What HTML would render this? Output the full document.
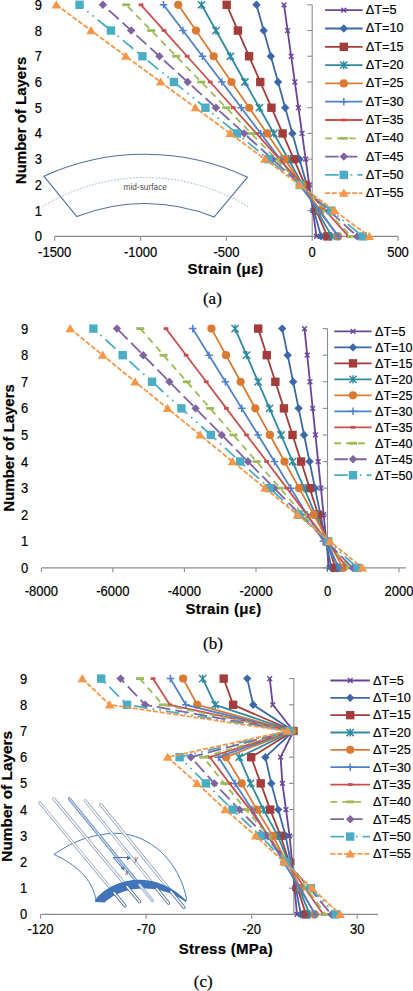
<!DOCTYPE html>
<html><head><meta charset="utf-8"><title>Figure</title>
<style>html,body{margin:0;padding:0;background:#fff;width:413px;height:991px;overflow:hidden}
svg{display:block} .t{stroke:#000;stroke-width:0.18px} .b{stroke:#000;stroke-width:0.2px}</style></head>
<body><svg width="413" height="991" viewBox="0 0 413 991" font-family='"Liberation Sans", sans-serif' fill="#000"><path d="M54.7 236.4H398" stroke="#8c8c8c" stroke-width="1.1" fill="none"/><path d="M54.7 236.4V240.7" stroke="#8c8c8c" stroke-width="1.1"/><path d="M140.5 236.4V240.7" stroke="#8c8c8c" stroke-width="1.1"/><path d="M226.4 236.4V240.7" stroke="#8c8c8c" stroke-width="1.1"/><path d="M312.2 236.4V240.7" stroke="#8c8c8c" stroke-width="1.1"/><path d="M398 236.4V240.7" stroke="#8c8c8c" stroke-width="1.1"/><path d="M312.2 4.8V236.4" stroke="#8c8c8c" stroke-width="1.1" fill="none"/><path d="M307.4 4.8H312.2" stroke="#8c8c8c" stroke-width="1.1"/><path d="M307.4 30.53H312.2" stroke="#8c8c8c" stroke-width="1.1"/><path d="M307.4 56.27H312.2" stroke="#8c8c8c" stroke-width="1.1"/><path d="M307.4 82H312.2" stroke="#8c8c8c" stroke-width="1.1"/><path d="M307.4 107.73H312.2" stroke="#8c8c8c" stroke-width="1.1"/><path d="M307.4 133.47H312.2" stroke="#8c8c8c" stroke-width="1.1"/><path d="M307.4 159.2H312.2" stroke="#8c8c8c" stroke-width="1.1"/><path d="M307.4 184.93H312.2" stroke="#8c8c8c" stroke-width="1.1"/><path d="M307.4 210.67H312.2" stroke="#8c8c8c" stroke-width="1.1"/><path d="M307.4 236.4H312.2" stroke="#8c8c8c" stroke-width="1.1"/><text transform="translate(42 241.4) scale(1 1.1)" text-anchor="end" font-size="13" class="t">0</text><text transform="translate(42 215.67) scale(1 1.1)" text-anchor="end" font-size="13" class="t">1</text><text transform="translate(42 189.93) scale(1 1.1)" text-anchor="end" font-size="13" class="t">2</text><text transform="translate(42 164.2) scale(1 1.1)" text-anchor="end" font-size="13" class="t">3</text><text transform="translate(42 138.47) scale(1 1.1)" text-anchor="end" font-size="13" class="t">4</text><text transform="translate(42 112.73) scale(1 1.1)" text-anchor="end" font-size="13" class="t">5</text><text transform="translate(42 87) scale(1 1.1)" text-anchor="end" font-size="13" class="t">6</text><text transform="translate(42 61.27) scale(1 1.1)" text-anchor="end" font-size="13" class="t">7</text><text transform="translate(42 35.53) scale(1 1.1)" text-anchor="end" font-size="13" class="t">8</text><text transform="translate(42 9.8) scale(1 1.1)" text-anchor="end" font-size="13" class="t">9</text><text transform="translate(54.7 257.2) scale(1 1.1)" text-anchor="middle" font-size="13" class="t">-1500</text><text transform="translate(140.5 257.2) scale(1 1.1)" text-anchor="middle" font-size="13" class="t">-1000</text><text transform="translate(226.4 257.2) scale(1 1.1)" text-anchor="middle" font-size="13" class="t">-500</text><text transform="translate(312.2 257.2) scale(1 1.1)" text-anchor="middle" font-size="13" class="t">0</text><text transform="translate(398 257.2) scale(1 1.1)" text-anchor="middle" font-size="13" class="t">500</text><g fill="none" stroke="#4f6f9f" stroke-width="1.1"><path d="M43.9 176.2A242.5 242.5 0 0 1 247.5 177.2L214.1 217A183.8 183.8 0 0 0 76.8 216.6Z"/></g><path d="M42.5 206.8A195.4 195.4 0 0 1 249 207.4" fill="none" stroke="#86a6c8" stroke-width="0.9" stroke-dasharray="1.6 1.6"/><text x="123.6" y="190" font-size="8.3" fill="#505050">mid-surface</text><path d="M284 4.8L287.61 30.53L291.22 56.27L294.83 82L298.44 107.73L302.06 133.47L305.67 159.2L309.28 184.93L312.89 210.67L316.5 236.4" stroke="#6a4496" stroke-width="1.8" fill="none" stroke-linejoin="round"/><path d="M314.1 234L318.9 238.8M314.1 238.8L318.9 234" stroke="#6a4496" stroke-width="1.4" fill="none"/><path d="M310.49 208.27L315.29 213.07M310.49 213.07L315.29 208.27" stroke="#6a4496" stroke-width="1.4" fill="none"/><path d="M306.88 182.53L311.68 187.33M306.88 187.33L311.68 182.53" stroke="#6a4496" stroke-width="1.4" fill="none"/><path d="M303.27 156.8L308.07 161.6M303.27 161.6L308.07 156.8" stroke="#6a4496" stroke-width="1.4" fill="none"/><path d="M299.66 131.07L304.46 135.87M299.66 135.87L304.46 131.07" stroke="#6a4496" stroke-width="1.4" fill="none"/><path d="M296.04 105.33L300.84 110.13M296.04 110.13L300.84 105.33" stroke="#6a4496" stroke-width="1.4" fill="none"/><path d="M292.43 79.6L297.23 84.4M292.43 84.4L297.23 79.6" stroke="#6a4496" stroke-width="1.4" fill="none"/><path d="M288.82 53.87L293.62 58.67M288.82 58.67L293.62 53.87" stroke="#6a4496" stroke-width="1.4" fill="none"/><path d="M285.21 28.13L290.01 32.93M285.21 32.93L290.01 28.13" stroke="#6a4496" stroke-width="1.4" fill="none"/><path d="M281.6 2.4L286.4 7.2M281.6 7.2L286.4 2.4" stroke="#6a4496" stroke-width="1.4" fill="none"/><path d="M256.5 4.8L263.68 30.53L270.86 56.27L278.03 82L285.21 107.73L292.39 133.47L299.57 159.2L306.74 184.93L313.92 210.67L321.1 236.4" stroke="#3d68a8" stroke-width="1.8" fill="none" stroke-linejoin="round"/><path d="M321.1 232.2L325.3 236.4L321.1 240.6L316.9 236.4Z" fill="#3d68a8"/><path d="M313.92 206.47L318.12 210.67L313.92 214.87L309.72 210.67Z" fill="#3d68a8"/><path d="M306.74 180.73L310.94 184.93L306.74 189.13L302.54 184.93Z" fill="#3d68a8"/><path d="M299.57 155L303.77 159.2L299.57 163.4L295.37 159.2Z" fill="#3d68a8"/><path d="M292.39 129.27L296.59 133.47L292.39 137.67L288.19 133.47Z" fill="#3d68a8"/><path d="M285.21 103.53L289.41 107.73L285.21 111.93L281.01 107.73Z" fill="#3d68a8"/><path d="M278.03 77.8L282.23 82L278.03 86.2L273.83 82Z" fill="#3d68a8"/><path d="M270.86 52.07L275.06 56.27L270.86 60.47L266.66 56.27Z" fill="#3d68a8"/><path d="M263.68 26.33L267.88 30.53L263.68 34.73L259.48 30.53Z" fill="#3d68a8"/><path d="M256.5 0.6L260.7 4.8L256.5 9L252.3 4.8Z" fill="#3d68a8"/><path d="M226.7 4.8L237.89 30.53L249.08 56.27L260.27 82L271.46 107.73L282.64 133.47L293.83 159.2L305.02 184.93L316.21 210.67L327.4 236.4" stroke="#a33c3a" stroke-width="1.8" fill="none" stroke-linejoin="round"/><rect x="323.2" y="232.2" width="8.4" height="8.4" fill="#a33c3a"/><rect x="312.01" y="206.47" width="8.4" height="8.4" fill="#a33c3a"/><rect x="300.82" y="180.73" width="8.4" height="8.4" fill="#a33c3a"/><rect x="289.63" y="155" width="8.4" height="8.4" fill="#a33c3a"/><rect x="278.44" y="129.27" width="8.4" height="8.4" fill="#a33c3a"/><rect x="267.26" y="103.53" width="8.4" height="8.4" fill="#a33c3a"/><rect x="256.07" y="77.8" width="8.4" height="8.4" fill="#a33c3a"/><rect x="244.88" y="52.07" width="8.4" height="8.4" fill="#a33c3a"/><rect x="233.69" y="26.33" width="8.4" height="8.4" fill="#a33c3a"/><rect x="222.5" y="0.6" width="8.4" height="8.4" fill="#a33c3a"/><path d="M201.5 4.8L215.97 30.53L230.43 56.27L244.9 82L259.37 107.73L273.83 133.47L288.3 159.2L302.77 184.93L317.23 210.67L331.7 236.4" stroke="#2e8aa0" stroke-width="1.8" fill="none" stroke-linejoin="round"/><path d="M328.1 232.8L335.3 240M328.1 240L335.3 232.8M331.7 232.3L331.7 240.5" stroke="#2e8aa0" stroke-width="1.5" fill="none"/><path d="M313.63 207.07L320.83 214.27M313.63 214.27L320.83 207.07M317.23 206.57L317.23 214.77" stroke="#2e8aa0" stroke-width="1.5" fill="none"/><path d="M299.17 181.33L306.37 188.53M299.17 188.53L306.37 181.33M302.77 180.83L302.77 189.03" stroke="#2e8aa0" stroke-width="1.5" fill="none"/><path d="M284.7 155.6L291.9 162.8M284.7 162.8L291.9 155.6M288.3 155.1L288.3 163.3" stroke="#2e8aa0" stroke-width="1.5" fill="none"/><path d="M270.23 129.87L277.43 137.07M270.23 137.07L277.43 129.87M273.83 129.37L273.83 137.57" stroke="#2e8aa0" stroke-width="1.5" fill="none"/><path d="M255.77 104.13L262.97 111.33M255.77 111.33L262.97 104.13M259.37 103.63L259.37 111.83" stroke="#2e8aa0" stroke-width="1.5" fill="none"/><path d="M241.3 78.4L248.5 85.6M241.3 85.6L248.5 78.4M244.9 77.9L244.9 86.1" stroke="#2e8aa0" stroke-width="1.5" fill="none"/><path d="M226.83 52.67L234.03 59.87M226.83 59.87L234.03 52.67M230.43 52.17L230.43 60.37" stroke="#2e8aa0" stroke-width="1.5" fill="none"/><path d="M212.37 26.93L219.57 34.13M212.37 34.13L219.57 26.93M215.97 26.43L215.97 34.63" stroke="#2e8aa0" stroke-width="1.5" fill="none"/><path d="M197.9 1.2L205.1 8.4M197.9 8.4L205.1 1.2M201.5 0.7L201.5 8.9" stroke="#2e8aa0" stroke-width="1.5" fill="none"/><path d="M178.2 4.8L195.96 30.53L213.71 56.27L231.47 82L249.22 107.73L266.98 133.47L284.73 159.2L302.49 184.93L320.24 210.67L338 236.4" stroke="#da7a33" stroke-width="1.8" fill="none" stroke-linejoin="round"/><circle cx="338" cy="236.4" r="4.1" fill="#da7a33"/><circle cx="320.24" cy="210.67" r="4.1" fill="#da7a33"/><circle cx="302.49" cy="184.93" r="4.1" fill="#da7a33"/><circle cx="284.73" cy="159.2" r="4.1" fill="#da7a33"/><circle cx="266.98" cy="133.47" r="4.1" fill="#da7a33"/><circle cx="249.22" cy="107.73" r="4.1" fill="#da7a33"/><circle cx="231.47" cy="82" r="4.1" fill="#da7a33"/><circle cx="213.71" cy="56.27" r="4.1" fill="#da7a33"/><circle cx="195.96" cy="30.53" r="4.1" fill="#da7a33"/><circle cx="178.2" cy="4.8" r="4.1" fill="#da7a33"/><path d="M163.5 4.8L182.94 30.53L202.39 56.27L221.83 82L241.28 107.73L260.72 133.47L280.17 159.2L299.61 184.93L319.06 210.67L338.5 236.4" stroke="#4f81c8" stroke-width="1.8" fill="none" stroke-linejoin="round"/><path d="M334.7 236.4L342.3 236.4M338.5 232.6L338.5 240.2" stroke="#4f81c8" stroke-width="1.5" fill="none"/><path d="M315.26 210.67L322.86 210.67M319.06 206.87L319.06 214.47" stroke="#4f81c8" stroke-width="1.5" fill="none"/><path d="M295.81 184.93L303.41 184.93M299.61 181.13L299.61 188.73" stroke="#4f81c8" stroke-width="1.5" fill="none"/><path d="M276.37 159.2L283.97 159.2M280.17 155.4L280.17 163" stroke="#4f81c8" stroke-width="1.5" fill="none"/><path d="M256.92 133.47L264.52 133.47M260.72 129.67L260.72 137.27" stroke="#4f81c8" stroke-width="1.5" fill="none"/><path d="M237.48 107.73L245.08 107.73M241.28 103.93L241.28 111.53" stroke="#4f81c8" stroke-width="1.5" fill="none"/><path d="M218.03 82L225.63 82M221.83 78.2L221.83 85.8" stroke="#4f81c8" stroke-width="1.5" fill="none"/><path d="M198.59 56.27L206.19 56.27M202.39 52.47L202.39 60.07" stroke="#4f81c8" stroke-width="1.5" fill="none"/><path d="M179.14 30.53L186.74 30.53M182.94 26.73L182.94 34.33" stroke="#4f81c8" stroke-width="1.5" fill="none"/><path d="M159.7 4.8L167.3 4.8M163.5 1L163.5 8.6" stroke="#4f81c8" stroke-width="1.5" fill="none"/><path d="M141 4.8L164.07 30.53L187.13 56.27L210.2 82L233.27 107.73L256.33 133.47L279.4 159.2L302.47 184.93L325.53 210.67L348.6 236.4" stroke="#c8504d" stroke-width="1.8" fill="none" stroke-linejoin="round"/><rect x="346.2" y="235" width="4.8" height="2.8" fill="#c8504d"/><rect x="323.13" y="209.27" width="4.8" height="2.8" fill="#c8504d"/><rect x="300.07" y="183.53" width="4.8" height="2.8" fill="#c8504d"/><rect x="277" y="157.8" width="4.8" height="2.8" fill="#c8504d"/><rect x="253.93" y="132.07" width="4.8" height="2.8" fill="#c8504d"/><rect x="230.87" y="106.33" width="4.8" height="2.8" fill="#c8504d"/><rect x="207.8" y="80.6" width="4.8" height="2.8" fill="#c8504d"/><rect x="184.73" y="54.87" width="4.8" height="2.8" fill="#c8504d"/><rect x="161.67" y="29.13" width="4.8" height="2.8" fill="#c8504d"/><rect x="138.6" y="3.4" width="4.8" height="2.8" fill="#c8504d"/><path d="M126.2 4.8L151.21 30.53L176.22 56.27L201.23 82L226.24 107.73L251.26 133.47L276.27 159.2L301.28 184.93L326.29 210.67L351.3 236.4" stroke="#9bbb59" stroke-width="1.8" fill="none" stroke-linejoin="round" stroke-dasharray="6.8 5.1" stroke-dashoffset="9.5"/><rect x="347.3" y="235" width="8" height="2.8" fill="#9bbb59"/><rect x="322.29" y="209.27" width="8" height="2.8" fill="#9bbb59"/><rect x="297.28" y="183.53" width="8" height="2.8" fill="#9bbb59"/><rect x="272.27" y="157.8" width="8" height="2.8" fill="#9bbb59"/><rect x="247.26" y="132.07" width="8" height="2.8" fill="#9bbb59"/><rect x="222.24" y="106.33" width="8" height="2.8" fill="#9bbb59"/><rect x="197.23" y="80.6" width="8" height="2.8" fill="#9bbb59"/><rect x="172.22" y="54.87" width="8" height="2.8" fill="#9bbb59"/><rect x="147.21" y="29.13" width="8" height="2.8" fill="#9bbb59"/><rect x="122.2" y="3.4" width="8" height="2.8" fill="#9bbb59"/><path d="M102.9 4.8L131.17 30.53L159.43 56.27L187.7 82L215.97 107.73L244.23 133.47L272.5 159.2L300.77 184.93L329.03 210.67L357.3 236.4" stroke="#8064a2" stroke-width="1.8" fill="none" stroke-linejoin="round" stroke-dasharray="13.6 5.1" stroke-dashoffset="10.8"/><path d="M357.3 232.2L361.5 236.4L357.3 240.6L353.1 236.4Z" fill="#8064a2"/><path d="M329.03 206.47L333.23 210.67L329.03 214.87L324.83 210.67Z" fill="#8064a2"/><path d="M300.77 180.73L304.97 184.93L300.77 189.13L296.57 184.93Z" fill="#8064a2"/><path d="M272.5 155L276.7 159.2L272.5 163.4L268.3 159.2Z" fill="#8064a2"/><path d="M244.23 129.27L248.43 133.47L244.23 137.67L240.03 133.47Z" fill="#8064a2"/><path d="M215.97 103.53L220.17 107.73L215.97 111.93L211.77 107.73Z" fill="#8064a2"/><path d="M187.7 77.8L191.9 82L187.7 86.2L183.5 82Z" fill="#8064a2"/><path d="M159.43 52.07L163.63 56.27L159.43 60.47L155.23 56.27Z" fill="#8064a2"/><path d="M131.17 26.33L135.37 30.53L131.17 34.73L126.97 30.53Z" fill="#8064a2"/><path d="M102.9 0.6L107.1 4.8L102.9 9L98.7 4.8Z" fill="#8064a2"/><path d="M79.5 4.8L110.98 30.53L142.46 56.27L173.93 82L205.41 107.73L236.89 133.47L268.37 159.2L299.84 184.93L331.32 210.67L362.8 236.4" stroke="#4bacc6" stroke-width="1.8" fill="none" stroke-linejoin="round" stroke-dasharray="13.6 5.1 1.7 5.1 1.7 5.1" stroke-dashoffset="8.75"/><rect x="358.6" y="232.2" width="8.4" height="8.4" fill="#4bacc6"/><rect x="327.12" y="206.47" width="8.4" height="8.4" fill="#4bacc6"/><rect x="295.64" y="180.73" width="8.4" height="8.4" fill="#4bacc6"/><rect x="264.17" y="155" width="8.4" height="8.4" fill="#4bacc6"/><rect x="232.69" y="129.27" width="8.4" height="8.4" fill="#4bacc6"/><rect x="201.21" y="103.53" width="8.4" height="8.4" fill="#4bacc6"/><rect x="169.73" y="77.8" width="8.4" height="8.4" fill="#4bacc6"/><rect x="138.26" y="52.07" width="8.4" height="8.4" fill="#4bacc6"/><rect x="106.78" y="26.33" width="8.4" height="8.4" fill="#4bacc6"/><rect x="75.3" y="0.6" width="8.4" height="8.4" fill="#4bacc6"/><path d="M56.3 4.8L91.08 30.53L125.86 56.27L160.63 82L195.41 107.73L230.19 133.47L264.97 159.2L299.74 184.93L334.52 210.67L369.3 236.4" stroke="#f79646" stroke-width="1.8" fill="none" stroke-linejoin="round" stroke-dasharray="5 1.8"/><path d="M369.3 231.8L374.1 240L364.5 240Z" fill="#f79646"/><path d="M334.52 206.07L339.32 214.27L329.72 214.27Z" fill="#f79646"/><path d="M299.74 180.33L304.54 188.53L294.94 188.53Z" fill="#f79646"/><path d="M264.97 154.6L269.77 162.8L260.17 162.8Z" fill="#f79646"/><path d="M230.19 128.87L234.99 137.07L225.39 137.07Z" fill="#f79646"/><path d="M195.41 103.13L200.21 111.33L190.61 111.33Z" fill="#f79646"/><path d="M160.63 77.4L165.43 85.6L155.83 85.6Z" fill="#f79646"/><path d="M125.86 51.67L130.66 59.87L121.06 59.87Z" fill="#f79646"/><path d="M91.08 25.93L95.88 34.13L86.28 34.13Z" fill="#f79646"/><path d="M56.3 0.2L61.1 8.4L51.5 8.4Z" fill="#f79646"/><line x1="325.1" y1="10.2" x2="362.6" y2="10.2" stroke="#6a4496" stroke-width="1.8"/><path d="M341.4 7.8L346.2 12.6M341.4 12.6L346.2 7.8" stroke="#6a4496" stroke-width="1.4" fill="none"/><text x="365.8" y="14.1" font-size="12.7" class="t">ΔT=5</text><line x1="325.1" y1="28.5" x2="362.6" y2="28.5" stroke="#3d68a8" stroke-width="1.8"/><path d="M343.8 24.3L348 28.5L343.8 32.7L339.6 28.5Z" fill="#3d68a8"/><text x="365.8" y="32.4" font-size="12.7" class="t">ΔT=10</text><line x1="325.1" y1="46.8" x2="362.6" y2="46.8" stroke="#a33c3a" stroke-width="1.8"/><rect x="339.6" y="42.6" width="8.4" height="8.4" fill="#a33c3a"/><text x="365.8" y="50.7" font-size="12.7" class="t">ΔT=15</text><line x1="325.1" y1="65.1" x2="362.6" y2="65.1" stroke="#2e8aa0" stroke-width="1.8"/><path d="M340.2 61.5L347.4 68.7M340.2 68.7L347.4 61.5M343.8 61L343.8 69.2" stroke="#2e8aa0" stroke-width="1.5" fill="none"/><text x="365.8" y="69" font-size="12.7" class="t">ΔT=20</text><line x1="325.1" y1="83.4" x2="362.6" y2="83.4" stroke="#da7a33" stroke-width="1.8"/><circle cx="343.8" cy="83.4" r="4.1" fill="#da7a33"/><text x="365.8" y="87.3" font-size="12.7" class="t">ΔT=25</text><line x1="325.1" y1="101.7" x2="362.6" y2="101.7" stroke="#4f81c8" stroke-width="1.8"/><path d="M340 101.7L347.6 101.7M343.8 97.9L343.8 105.5" stroke="#4f81c8" stroke-width="1.5" fill="none"/><text x="365.8" y="105.6" font-size="12.7" class="t">ΔT=30</text><line x1="325.1" y1="120" x2="362.6" y2="120" stroke="#c8504d" stroke-width="1.8"/><rect x="341.4" y="118.6" width="4.8" height="2.8" fill="#c8504d"/><text x="365.8" y="123.9" font-size="12.7" class="t">ΔT=35</text><line x1="325.1" y1="138.3" x2="355.9" y2="138.3" stroke="#9bbb59" stroke-width="1.8" stroke-dasharray="6.8 5.1"/><rect x="339.8" y="136.9" width="8" height="2.8" fill="#9bbb59"/><text x="365.8" y="142.2" font-size="12.7" class="t">ΔT=40</text><line x1="325.1" y1="156.6" x2="357.5" y2="156.6" stroke="#8064a2" stroke-width="1.8" stroke-dasharray="13.6 5.1"/><path d="M343.8 152.4L348 156.6L343.8 160.8L339.6 156.6Z" fill="#8064a2"/><text x="365.8" y="160.5" font-size="12.7" class="t">ΔT=45</text><line x1="325.1" y1="174.9" x2="362.6" y2="174.9" stroke="#4bacc6" stroke-width="1.8" stroke-dasharray="13.6 5.1 1.7 5.1 1.7 5.1"/><rect x="339.6" y="170.7" width="8.4" height="8.4" fill="#4bacc6"/><text x="365.8" y="178.8" font-size="12.7" class="t">ΔT=50</text><line x1="325.1" y1="193.2" x2="362.6" y2="193.2" stroke="#f79646" stroke-width="1.8" stroke-dasharray="5 1.8"/><path d="M343.8 188.6L348.6 196.8L339 196.8Z" fill="#f79646"/><text x="365.8" y="197.1" font-size="12.7" class="t">ΔT=55</text><text transform="translate(26.3 120.4) rotate(-90)" text-anchor="middle" font-size="15" font-weight="bold" class="b">Number of Layers</text><text x="225.6" y="273.9" text-anchor="middle" font-size="15" font-weight="bold" letter-spacing="0.28" class="b">Strain (με)</text><text x="212.4" y="304.4" text-anchor="middle" font-size="17" font-family='"Liberation Serif", serif' class="b">(a)</text><path d="M41.4 567.9H405.9" stroke="#8c8c8c" stroke-width="1.1" fill="none"/><path d="M41.4 567.9V572.2" stroke="#8c8c8c" stroke-width="1.1"/><path d="M112.9 567.9V572.2" stroke="#8c8c8c" stroke-width="1.1"/><path d="M184.4 567.9V572.2" stroke="#8c8c8c" stroke-width="1.1"/><path d="M256 567.9V572.2" stroke="#8c8c8c" stroke-width="1.1"/><path d="M327.5 567.9V572.2" stroke="#8c8c8c" stroke-width="1.1"/><path d="M399 567.9V572.2" stroke="#8c8c8c" stroke-width="1.1"/><path d="M327.5 328.6V567.9" stroke="#8c8c8c" stroke-width="1.1" fill="none"/><path d="M322.7 328.6H327.5" stroke="#8c8c8c" stroke-width="1.1"/><path d="M322.7 355.19H327.5" stroke="#8c8c8c" stroke-width="1.1"/><path d="M322.7 381.78H327.5" stroke="#8c8c8c" stroke-width="1.1"/><path d="M322.7 408.37H327.5" stroke="#8c8c8c" stroke-width="1.1"/><path d="M322.7 434.96H327.5" stroke="#8c8c8c" stroke-width="1.1"/><path d="M322.7 461.54H327.5" stroke="#8c8c8c" stroke-width="1.1"/><path d="M322.7 488.13H327.5" stroke="#8c8c8c" stroke-width="1.1"/><path d="M322.7 514.72H327.5" stroke="#8c8c8c" stroke-width="1.1"/><path d="M322.7 541.31H327.5" stroke="#8c8c8c" stroke-width="1.1"/><path d="M322.7 567.9H327.5" stroke="#8c8c8c" stroke-width="1.1"/><text transform="translate(28.2 572.9) scale(1 1.1)" text-anchor="end" font-size="13" class="t">0</text><text transform="translate(28.2 546.31) scale(1 1.1)" text-anchor="end" font-size="13" class="t">1</text><text transform="translate(28.2 519.72) scale(1 1.1)" text-anchor="end" font-size="13" class="t">2</text><text transform="translate(28.2 493.13) scale(1 1.1)" text-anchor="end" font-size="13" class="t">3</text><text transform="translate(28.2 466.54) scale(1 1.1)" text-anchor="end" font-size="13" class="t">4</text><text transform="translate(28.2 439.96) scale(1 1.1)" text-anchor="end" font-size="13" class="t">5</text><text transform="translate(28.2 413.37) scale(1 1.1)" text-anchor="end" font-size="13" class="t">6</text><text transform="translate(28.2 386.78) scale(1 1.1)" text-anchor="end" font-size="13" class="t">7</text><text transform="translate(28.2 360.19) scale(1 1.1)" text-anchor="end" font-size="13" class="t">8</text><text transform="translate(28.2 333.6) scale(1 1.1)" text-anchor="end" font-size="13" class="t">9</text><text transform="translate(41.4 595.7) scale(1 1.1)" text-anchor="middle" font-size="13" class="t">-8000</text><text transform="translate(112.9 595.7) scale(1 1.1)" text-anchor="middle" font-size="13" class="t">-6000</text><text transform="translate(184.4 595.7) scale(1 1.1)" text-anchor="middle" font-size="13" class="t">-4000</text><text transform="translate(256 595.7) scale(1 1.1)" text-anchor="middle" font-size="13" class="t">-2000</text><text transform="translate(327.5 595.7) scale(1 1.1)" text-anchor="middle" font-size="13" class="t">0</text><text transform="translate(399 595.7) scale(1 1.1)" text-anchor="middle" font-size="13" class="t">2000</text><path d="M304.5 328.6L307.23 355.19L309.97 381.78L312.7 408.37L315.43 434.96L318.17 461.54L320.9 488.13L323.63 514.72L326.37 541.31L329.1 567.9" stroke="#6a4496" stroke-width="1.8" fill="none" stroke-linejoin="round"/><path d="M326.7 565.5L331.5 570.3M326.7 570.3L331.5 565.5" stroke="#6a4496" stroke-width="1.4" fill="none"/><path d="M323.97 538.91L328.77 543.71M323.97 543.71L328.77 538.91" stroke="#6a4496" stroke-width="1.4" fill="none"/><path d="M321.23 512.32L326.03 517.12M321.23 517.12L326.03 512.32" stroke="#6a4496" stroke-width="1.4" fill="none"/><path d="M318.5 485.73L323.3 490.53M318.5 490.53L323.3 485.73" stroke="#6a4496" stroke-width="1.4" fill="none"/><path d="M315.77 459.14L320.57 463.94M315.77 463.94L320.57 459.14" stroke="#6a4496" stroke-width="1.4" fill="none"/><path d="M313.03 432.56L317.83 437.36M313.03 437.36L317.83 432.56" stroke="#6a4496" stroke-width="1.4" fill="none"/><path d="M310.3 405.97L315.1 410.77M310.3 410.77L315.1 405.97" stroke="#6a4496" stroke-width="1.4" fill="none"/><path d="M307.57 379.38L312.37 384.18M307.57 384.18L312.37 379.38" stroke="#6a4496" stroke-width="1.4" fill="none"/><path d="M304.83 352.79L309.63 357.59M304.83 357.59L309.63 352.79" stroke="#6a4496" stroke-width="1.4" fill="none"/><path d="M302.1 326.2L306.9 331M302.1 331L306.9 326.2" stroke="#6a4496" stroke-width="1.4" fill="none"/><path d="M282.2 328.6L287.67 355.19L293.13 381.78L298.6 408.37L304.07 434.96L309.53 461.54L315 488.13L320.47 514.72L325.93 541.31L331.4 567.9" stroke="#3d68a8" stroke-width="1.8" fill="none" stroke-linejoin="round"/><path d="M331.4 563.7L335.6 567.9L331.4 572.1L327.2 567.9Z" fill="#3d68a8"/><path d="M325.93 537.11L330.13 541.31L325.93 545.51L321.73 541.31Z" fill="#3d68a8"/><path d="M320.47 510.52L324.67 514.72L320.47 518.92L316.27 514.72Z" fill="#3d68a8"/><path d="M315 483.93L319.2 488.13L315 492.33L310.8 488.13Z" fill="#3d68a8"/><path d="M309.53 457.34L313.73 461.54L309.53 465.74L305.33 461.54Z" fill="#3d68a8"/><path d="M304.07 430.76L308.27 434.96L304.07 439.16L299.87 434.96Z" fill="#3d68a8"/><path d="M298.6 404.17L302.8 408.37L298.6 412.57L294.4 408.37Z" fill="#3d68a8"/><path d="M293.13 377.58L297.33 381.78L293.13 385.98L288.93 381.78Z" fill="#3d68a8"/><path d="M287.67 350.99L291.87 355.19L287.67 359.39L283.47 355.19Z" fill="#3d68a8"/><path d="M282.2 324.4L286.4 328.6L282.2 332.8L278 328.6Z" fill="#3d68a8"/><path d="M258.2 328.6L266.78 355.19L275.36 381.78L283.93 408.37L292.51 434.96L301.09 461.54L309.67 488.13L318.24 514.72L326.82 541.31L335.4 567.9" stroke="#a33c3a" stroke-width="1.8" fill="none" stroke-linejoin="round"/><rect x="331.2" y="563.7" width="8.4" height="8.4" fill="#a33c3a"/><rect x="322.62" y="537.11" width="8.4" height="8.4" fill="#a33c3a"/><rect x="314.04" y="510.52" width="8.4" height="8.4" fill="#a33c3a"/><rect x="305.47" y="483.93" width="8.4" height="8.4" fill="#a33c3a"/><rect x="296.89" y="457.34" width="8.4" height="8.4" fill="#a33c3a"/><rect x="288.31" y="430.76" width="8.4" height="8.4" fill="#a33c3a"/><rect x="279.73" y="404.17" width="8.4" height="8.4" fill="#a33c3a"/><rect x="271.16" y="377.58" width="8.4" height="8.4" fill="#a33c3a"/><rect x="262.58" y="350.99" width="8.4" height="8.4" fill="#a33c3a"/><rect x="254" y="324.4" width="8.4" height="8.4" fill="#a33c3a"/><path d="M235.1 328.6L246.59 355.19L258.08 381.78L269.57 408.37L281.06 434.96L292.54 461.54L304.03 488.13L315.52 514.72L327.01 541.31L338.5 567.9" stroke="#2e8aa0" stroke-width="1.8" fill="none" stroke-linejoin="round"/><path d="M334.9 564.3L342.1 571.5M334.9 571.5L342.1 564.3M338.5 563.8L338.5 572" stroke="#2e8aa0" stroke-width="1.5" fill="none"/><path d="M323.41 537.71L330.61 544.91M323.41 544.91L330.61 537.71M327.01 537.21L327.01 545.41" stroke="#2e8aa0" stroke-width="1.5" fill="none"/><path d="M311.92 511.12L319.12 518.32M311.92 518.32L319.12 511.12M315.52 510.62L315.52 518.82" stroke="#2e8aa0" stroke-width="1.5" fill="none"/><path d="M300.43 484.53L307.63 491.73M300.43 491.73L307.63 484.53M304.03 484.03L304.03 492.23" stroke="#2e8aa0" stroke-width="1.5" fill="none"/><path d="M288.94 457.94L296.14 465.14M288.94 465.14L296.14 457.94M292.54 457.44L292.54 465.64" stroke="#2e8aa0" stroke-width="1.5" fill="none"/><path d="M277.46 431.36L284.66 438.56M277.46 438.56L284.66 431.36M281.06 430.86L281.06 439.06" stroke="#2e8aa0" stroke-width="1.5" fill="none"/><path d="M265.97 404.77L273.17 411.97M265.97 411.97L273.17 404.77M269.57 404.27L269.57 412.47" stroke="#2e8aa0" stroke-width="1.5" fill="none"/><path d="M254.48 378.18L261.68 385.38M254.48 385.38L261.68 378.18M258.08 377.68L258.08 385.88" stroke="#2e8aa0" stroke-width="1.5" fill="none"/><path d="M242.99 351.59L250.19 358.79M242.99 358.79L250.19 351.59M246.59 351.09L246.59 359.29" stroke="#2e8aa0" stroke-width="1.5" fill="none"/><path d="M231.5 325L238.7 332.2M231.5 332.2L238.7 325M235.1 324.5L235.1 332.7" stroke="#2e8aa0" stroke-width="1.5" fill="none"/><path d="M211.4 328.6L226.02 355.19L240.64 381.78L255.27 408.37L269.89 434.96L284.51 461.54L299.13 488.13L313.76 514.72L328.38 541.31L343 567.9" stroke="#da7a33" stroke-width="1.8" fill="none" stroke-linejoin="round"/><circle cx="343" cy="567.9" r="4.1" fill="#da7a33"/><circle cx="328.38" cy="541.31" r="4.1" fill="#da7a33"/><circle cx="313.76" cy="514.72" r="4.1" fill="#da7a33"/><circle cx="299.13" cy="488.13" r="4.1" fill="#da7a33"/><circle cx="284.51" cy="461.54" r="4.1" fill="#da7a33"/><circle cx="269.89" cy="434.96" r="4.1" fill="#da7a33"/><circle cx="255.27" cy="408.37" r="4.1" fill="#da7a33"/><circle cx="240.64" cy="381.78" r="4.1" fill="#da7a33"/><circle cx="226.02" cy="355.19" r="4.1" fill="#da7a33"/><circle cx="211.4" cy="328.6" r="4.1" fill="#da7a33"/><path d="M192.7 328.6L209.04 355.19L225.39 381.78L241.73 408.37L258.08 434.96L274.42 461.54L290.77 488.13L307.11 514.72L323.46 541.31L339.8 567.9" stroke="#4f81c8" stroke-width="1.8" fill="none" stroke-linejoin="round"/><path d="M336 567.9L343.6 567.9M339.8 564.1L339.8 571.7" stroke="#4f81c8" stroke-width="1.5" fill="none"/><path d="M319.66 541.31L327.26 541.31M323.46 537.51L323.46 545.11" stroke="#4f81c8" stroke-width="1.5" fill="none"/><path d="M303.31 514.72L310.91 514.72M307.11 510.92L307.11 518.52" stroke="#4f81c8" stroke-width="1.5" fill="none"/><path d="M286.97 488.13L294.57 488.13M290.77 484.33L290.77 491.93" stroke="#4f81c8" stroke-width="1.5" fill="none"/><path d="M270.62 461.54L278.22 461.54M274.42 457.74L274.42 465.34" stroke="#4f81c8" stroke-width="1.5" fill="none"/><path d="M254.28 434.96L261.88 434.96M258.08 431.16L258.08 438.76" stroke="#4f81c8" stroke-width="1.5" fill="none"/><path d="M237.93 408.37L245.53 408.37M241.73 404.57L241.73 412.17" stroke="#4f81c8" stroke-width="1.5" fill="none"/><path d="M221.59 381.78L229.19 381.78M225.39 377.98L225.39 385.58" stroke="#4f81c8" stroke-width="1.5" fill="none"/><path d="M205.24 355.19L212.84 355.19M209.04 351.39L209.04 358.99" stroke="#4f81c8" stroke-width="1.5" fill="none"/><path d="M188.9 328.6L196.5 328.6M192.7 324.8L192.7 332.4" stroke="#4f81c8" stroke-width="1.5" fill="none"/><path d="M166 328.6L186.13 355.19L206.27 381.78L226.4 408.37L246.53 434.96L266.67 461.54L286.8 488.13L306.93 514.72L327.07 541.31L347.2 567.9" stroke="#c8504d" stroke-width="1.8" fill="none" stroke-linejoin="round"/><rect x="344.8" y="566.5" width="4.8" height="2.8" fill="#c8504d"/><rect x="324.67" y="539.91" width="4.8" height="2.8" fill="#c8504d"/><rect x="304.53" y="513.32" width="4.8" height="2.8" fill="#c8504d"/><rect x="284.4" y="486.73" width="4.8" height="2.8" fill="#c8504d"/><rect x="264.27" y="460.14" width="4.8" height="2.8" fill="#c8504d"/><rect x="244.13" y="433.56" width="4.8" height="2.8" fill="#c8504d"/><rect x="224" y="406.97" width="4.8" height="2.8" fill="#c8504d"/><rect x="203.87" y="380.38" width="4.8" height="2.8" fill="#c8504d"/><rect x="183.73" y="353.79" width="4.8" height="2.8" fill="#c8504d"/><rect x="163.6" y="327.2" width="4.8" height="2.8" fill="#c8504d"/><path d="M140.3 328.6L163.57 355.19L186.83 381.78L210.1 408.37L233.37 434.96L256.63 461.54L279.9 488.13L303.17 514.72L326.43 541.31L349.7 567.9" stroke="#9bbb59" stroke-width="1.8" fill="none" stroke-linejoin="round" stroke-dasharray="6.8 5.1"/><rect x="345.7" y="566.5" width="8" height="2.8" fill="#9bbb59"/><rect x="322.43" y="539.91" width="8" height="2.8" fill="#9bbb59"/><rect x="299.17" y="513.32" width="8" height="2.8" fill="#9bbb59"/><rect x="275.9" y="486.73" width="8" height="2.8" fill="#9bbb59"/><rect x="252.63" y="460.14" width="8" height="2.8" fill="#9bbb59"/><rect x="229.37" y="433.56" width="8" height="2.8" fill="#9bbb59"/><rect x="206.1" y="406.97" width="8" height="2.8" fill="#9bbb59"/><rect x="182.83" y="380.38" width="8" height="2.8" fill="#9bbb59"/><rect x="159.57" y="353.79" width="8" height="2.8" fill="#9bbb59"/><rect x="136.3" y="327.2" width="8" height="2.8" fill="#9bbb59"/><path d="M117 328.6L143.19 355.19L169.38 381.78L195.57 408.37L221.76 434.96L247.94 461.54L274.13 488.13L300.32 514.72L326.51 541.31L352.7 567.9" stroke="#8064a2" stroke-width="1.8" fill="none" stroke-linejoin="round" stroke-dasharray="13.6 5.1" stroke-dashoffset="17.2"/><path d="M352.7 563.7L356.9 567.9L352.7 572.1L348.5 567.9Z" fill="#8064a2"/><path d="M326.51 537.11L330.71 541.31L326.51 545.51L322.31 541.31Z" fill="#8064a2"/><path d="M300.32 510.52L304.52 514.72L300.32 518.92L296.12 514.72Z" fill="#8064a2"/><path d="M274.13 483.93L278.33 488.13L274.13 492.33L269.93 488.13Z" fill="#8064a2"/><path d="M247.94 457.34L252.14 461.54L247.94 465.74L243.74 461.54Z" fill="#8064a2"/><path d="M221.76 430.76L225.96 434.96L221.76 439.16L217.56 434.96Z" fill="#8064a2"/><path d="M195.57 404.17L199.77 408.37L195.57 412.57L191.37 408.37Z" fill="#8064a2"/><path d="M169.38 377.58L173.58 381.78L169.38 385.98L165.18 381.78Z" fill="#8064a2"/><path d="M143.19 350.99L147.39 355.19L143.19 359.39L138.99 355.19Z" fill="#8064a2"/><path d="M117 324.4L121.2 328.6L117 332.8L112.8 328.6Z" fill="#8064a2"/><path d="M93.4 328.6L122.74 355.19L152.09 381.78L181.43 408.37L210.78 434.96L240.12 461.54L269.47 488.13L298.81 514.72L328.16 541.31L357.5 567.9" stroke="#4bacc6" stroke-width="1.8" fill="none" stroke-linejoin="round" stroke-dasharray="13.6 5.1 1.7 5.1 1.7 5.1" stroke-dashoffset="16.1"/><rect x="353.3" y="563.7" width="8.4" height="8.4" fill="#4bacc6"/><rect x="323.96" y="537.11" width="8.4" height="8.4" fill="#4bacc6"/><rect x="294.61" y="510.52" width="8.4" height="8.4" fill="#4bacc6"/><rect x="265.27" y="483.93" width="8.4" height="8.4" fill="#4bacc6"/><rect x="235.92" y="457.34" width="8.4" height="8.4" fill="#4bacc6"/><rect x="206.58" y="430.76" width="8.4" height="8.4" fill="#4bacc6"/><rect x="177.23" y="404.17" width="8.4" height="8.4" fill="#4bacc6"/><rect x="147.89" y="377.58" width="8.4" height="8.4" fill="#4bacc6"/><rect x="118.54" y="350.99" width="8.4" height="8.4" fill="#4bacc6"/><rect x="89.2" y="324.4" width="8.4" height="8.4" fill="#4bacc6"/><path d="M70.2 328.6L102.67 355.19L135.13 381.78L167.6 408.37L200.07 434.96L232.53 461.54L265 488.13L297.47 514.72L329.93 541.31L362.4 567.9" stroke="#f79646" stroke-width="1.8" fill="none" stroke-linejoin="round" stroke-dasharray="5 1.8"/><path d="M362.4 563.3L367.2 571.5L357.6 571.5Z" fill="#f79646"/><path d="M329.93 536.71L334.73 544.91L325.13 544.91Z" fill="#f79646"/><path d="M297.47 510.12L302.27 518.32L292.67 518.32Z" fill="#f79646"/><path d="M265 483.53L269.8 491.73L260.2 491.73Z" fill="#f79646"/><path d="M232.53 456.94L237.33 465.14L227.73 465.14Z" fill="#f79646"/><path d="M200.07 430.36L204.87 438.56L195.27 438.56Z" fill="#f79646"/><path d="M167.6 403.77L172.4 411.97L162.8 411.97Z" fill="#f79646"/><path d="M135.13 377.18L139.93 385.38L130.33 385.38Z" fill="#f79646"/><path d="M102.67 350.59L107.47 358.79L97.87 358.79Z" fill="#f79646"/><path d="M70.2 324L75 332.2L65.4 332.2Z" fill="#f79646"/><line x1="334.3" y1="331.4" x2="371.6" y2="331.4" stroke="#6a4496" stroke-width="1.8"/><path d="M350.6 329L355.4 333.8M350.6 333.8L355.4 329" stroke="#6a4496" stroke-width="1.4" fill="none"/><text x="375" y="336.1" font-size="12.6" class="t">ΔT=5</text><line x1="334.3" y1="347.38" x2="371.6" y2="347.38" stroke="#3d68a8" stroke-width="1.8"/><path d="M353 343.18L357.2 347.38L353 351.58L348.8 347.38Z" fill="#3d68a8"/><text x="375" y="352.08" font-size="12.6" class="t">ΔT=10</text><line x1="334.3" y1="363.36" x2="371.6" y2="363.36" stroke="#a33c3a" stroke-width="1.8"/><rect x="348.8" y="359.16" width="8.4" height="8.4" fill="#a33c3a"/><text x="375" y="368.06" font-size="12.6" class="t">ΔT=15</text><line x1="334.3" y1="379.34" x2="371.6" y2="379.34" stroke="#2e8aa0" stroke-width="1.8"/><path d="M349.4 375.74L356.6 382.94M349.4 382.94L356.6 375.74M353 375.24L353 383.44" stroke="#2e8aa0" stroke-width="1.5" fill="none"/><text x="375" y="384.04" font-size="12.6" class="t">ΔT=20</text><line x1="334.3" y1="395.32" x2="371.6" y2="395.32" stroke="#da7a33" stroke-width="1.8"/><circle cx="353" cy="395.32" r="4.1" fill="#da7a33"/><text x="375" y="400.02" font-size="12.6" class="t">ΔT=25</text><line x1="334.3" y1="411.3" x2="371.6" y2="411.3" stroke="#4f81c8" stroke-width="1.8"/><path d="M349.2 411.3L356.8 411.3M353 407.5L353 415.1" stroke="#4f81c8" stroke-width="1.5" fill="none"/><text x="375" y="416" font-size="12.6" class="t">ΔT=30</text><line x1="334.3" y1="427.28" x2="371.6" y2="427.28" stroke="#c8504d" stroke-width="1.8"/><rect x="350.6" y="425.88" width="4.8" height="2.8" fill="#c8504d"/><text x="375" y="431.98" font-size="12.6" class="t">ΔT=35</text><line x1="334.3" y1="443.26" x2="365.1" y2="443.26" stroke="#9bbb59" stroke-width="1.8" stroke-dasharray="6.8 5.1"/><rect x="349" y="441.86" width="8" height="2.8" fill="#9bbb59"/><text x="375" y="447.96" font-size="12.6" class="t">ΔT=40</text><line x1="334.3" y1="459.24" x2="366.7" y2="459.24" stroke="#8064a2" stroke-width="1.8" stroke-dasharray="13.6 5.1"/><path d="M353 455.04L357.2 459.24L353 463.44L348.8 459.24Z" fill="#8064a2"/><text x="375" y="463.94" font-size="12.6" class="t">ΔT=45</text><line x1="334.3" y1="475.22" x2="371.6" y2="475.22" stroke="#4bacc6" stroke-width="1.8" stroke-dasharray="13.6 5.1 1.7 5.1 1.7 5.1"/><rect x="348.8" y="471.02" width="8.4" height="8.4" fill="#4bacc6"/><text x="375" y="479.92" font-size="12.6" class="t">ΔT=50</text><text transform="translate(14.2 447.9) rotate(-90)" text-anchor="middle" font-size="15" font-weight="bold" class="b">Number of Layers</text><text x="223.4" y="613.9" text-anchor="middle" font-size="15" font-weight="bold" letter-spacing="0.28" class="b">Strain (με)</text><text x="212.9" y="648.8" text-anchor="middle" font-size="17" font-family='"Liberation Serif", serif' class="b">(b)</text><path d="M54 854.5C70 843 90 834 115 833.3C150 833 180 862 186.8 900.4" fill="none" stroke="#4a7cc0" stroke-width="1"/><path d="M54 854.5C75 864 92 878 96.2 900.4" fill="none" stroke="#4a7cc0" stroke-width="1"/><line x1="39.7" y1="802.6" x2="125" y2="905.8" stroke="#8394b3" stroke-width="2.9" stroke-linecap="round"/><line x1="39.7" y1="802.6" x2="125" y2="905.8" stroke="#fff" stroke-width="1.6" stroke-linecap="round"/><line x1="53.8" y1="798.7" x2="139.6" y2="901.7" stroke="#8394b3" stroke-width="2.9" stroke-linecap="round"/><line x1="53.8" y1="798.7" x2="139.6" y2="901.7" stroke="#fff" stroke-width="1.6" stroke-linecap="round"/><line x1="69.3" y1="798.7" x2="152.6" y2="900.8" stroke="#6f8fc0" stroke-width="3.0" stroke-linecap="round"/><line x1="69.3" y1="798.7" x2="152.6" y2="900.8" stroke="#c9d8ee" stroke-width="1.3" stroke-linecap="round"/><line x1="85.2" y1="800.7" x2="168.6" y2="903.2" stroke="#8394b3" stroke-width="2.9" stroke-linecap="round"/><line x1="85.2" y1="800.7" x2="168.6" y2="903.2" stroke="#fff" stroke-width="1.6" stroke-linecap="round"/><line x1="100.7" y1="804.5" x2="184" y2="907.5" stroke="#8394b3" stroke-width="2.9" stroke-linecap="round"/><line x1="100.7" y1="804.5" x2="184" y2="907.5" stroke="#fff" stroke-width="1.6" stroke-linecap="round"/><path d="M95.5 899.3C112 878 155 868 186.6 900.8L186 902.2C162 884 125 884 104.5 902.6L95 902Z" fill="#4274b9"/><line x1="114.17" y1="892.69" x2="125" y2="905.8" stroke="#4d6f9f" stroke-width="3.0" stroke-linecap="round"/><line x1="114.17" y1="892.69" x2="125" y2="905.8" stroke="#fff" stroke-width="1.5" stroke-linecap="round"/><line x1="126.9" y1="886.46" x2="139.6" y2="901.7" stroke="#4d6f9f" stroke-width="3.0" stroke-linecap="round"/><line x1="126.9" y1="886.46" x2="139.6" y2="901.7" stroke="#fff" stroke-width="1.5" stroke-linecap="round"/><line x1="139.61" y1="884.87" x2="152.6" y2="900.8" stroke="#c5d6ee" stroke-width="2.6" stroke-linecap="round"/><line x1="156.59" y1="888.44" x2="168.6" y2="903.2" stroke="#4d6f9f" stroke-width="3.0" stroke-linecap="round"/><line x1="156.59" y1="888.44" x2="168.6" y2="903.2" stroke="#fff" stroke-width="1.5" stroke-linecap="round"/><line x1="171.01" y1="891.43" x2="184" y2="907.5" stroke="#4d6f9f" stroke-width="3.0" stroke-linecap="round"/><line x1="171.01" y1="891.43" x2="184" y2="907.5" stroke="#fff" stroke-width="1.5" stroke-linecap="round"/><path d="M113.2 857.5H128.5M113.2 857.5L123 868.5" stroke="#3f72b8" stroke-width="1.1" fill="none"/><path d="M131 858L127 855.8L127 860.2Z" fill="#3f72b8"/><path d="M124.6 870.6L120.8 868.5L123.8 866Z" fill="#3f72b8"/><text x="134.3" y="861" font-size="7" font-style="italic" fill="#444">y</text><text x="125" y="875" font-size="7" font-style="italic" fill="#444">x</text><path d="M40.5 914.4H378.2" stroke="#8c8c8c" stroke-width="1.1" fill="none"/><path d="M40.5 914.4V918.7" stroke="#8c8c8c" stroke-width="1.1"/><path d="M146.1 914.4V918.7" stroke="#8c8c8c" stroke-width="1.1"/><path d="M251.6 914.4V918.7" stroke="#8c8c8c" stroke-width="1.1"/><path d="M357.2 914.4V918.7" stroke="#8c8c8c" stroke-width="1.1"/><path d="M293.8 678.6V914.4" stroke="#8c8c8c" stroke-width="1.1" fill="none"/><path d="M289 678.6H293.8" stroke="#8c8c8c" stroke-width="1.1"/><path d="M289 704.8H293.8" stroke="#8c8c8c" stroke-width="1.1"/><path d="M289 731H293.8" stroke="#8c8c8c" stroke-width="1.1"/><path d="M289 757.2H293.8" stroke="#8c8c8c" stroke-width="1.1"/><path d="M289 783.4H293.8" stroke="#8c8c8c" stroke-width="1.1"/><path d="M289 809.6H293.8" stroke="#8c8c8c" stroke-width="1.1"/><path d="M289 835.8H293.8" stroke="#8c8c8c" stroke-width="1.1"/><path d="M289 862H293.8" stroke="#8c8c8c" stroke-width="1.1"/><path d="M289 888.2H293.8" stroke="#8c8c8c" stroke-width="1.1"/><path d="M289 914.4H293.8" stroke="#8c8c8c" stroke-width="1.1"/><text transform="translate(27.2 919.4) scale(1 1.1)" text-anchor="end" font-size="13" class="t">0</text><text transform="translate(27.2 893.2) scale(1 1.1)" text-anchor="end" font-size="13" class="t">1</text><text transform="translate(27.2 867) scale(1 1.1)" text-anchor="end" font-size="13" class="t">2</text><text transform="translate(27.2 840.8) scale(1 1.1)" text-anchor="end" font-size="13" class="t">3</text><text transform="translate(27.2 814.6) scale(1 1.1)" text-anchor="end" font-size="13" class="t">4</text><text transform="translate(27.2 788.4) scale(1 1.1)" text-anchor="end" font-size="13" class="t">5</text><text transform="translate(27.2 762.2) scale(1 1.1)" text-anchor="end" font-size="13" class="t">6</text><text transform="translate(27.2 736) scale(1 1.1)" text-anchor="end" font-size="13" class="t">7</text><text transform="translate(27.2 709.8) scale(1 1.1)" text-anchor="end" font-size="13" class="t">8</text><text transform="translate(27.2 683.6) scale(1 1.1)" text-anchor="end" font-size="13" class="t">9</text><text transform="translate(40.5 934.4) scale(1 1.1)" text-anchor="middle" font-size="13" class="t">-120</text><text transform="translate(146.1 934.4) scale(1 1.1)" text-anchor="middle" font-size="13" class="t">-70</text><text transform="translate(251.6 934.4) scale(1 1.1)" text-anchor="middle" font-size="13" class="t">-20</text><text transform="translate(357.2 934.4) scale(1 1.1)" text-anchor="middle" font-size="13" class="t">30</text><path d="M269.7 678.6L272.8 704.8L293.5 731L280.6 757.2L282.4 783.4L286 809.6L289.6 835.8L292.07 862L294.53 888.2L297 914.4" stroke="#6a4496" stroke-width="1.8" fill="none" stroke-linejoin="round"/><path d="M267.3 676.2L272.1 681M267.3 681L272.1 676.2" stroke="#6a4496" stroke-width="1.4" fill="none"/><path d="M270.4 702.4L275.2 707.2M270.4 707.2L275.2 702.4" stroke="#6a4496" stroke-width="1.4" fill="none"/><path d="M291.1 728.6L295.9 733.4M291.1 733.4L295.9 728.6" stroke="#6a4496" stroke-width="1.4" fill="none"/><path d="M278.2 754.8L283 759.6M278.2 759.6L283 754.8" stroke="#6a4496" stroke-width="1.4" fill="none"/><path d="M280 781L284.8 785.8M280 785.8L284.8 781" stroke="#6a4496" stroke-width="1.4" fill="none"/><path d="M283.6 807.2L288.4 812M283.6 812L288.4 807.2" stroke="#6a4496" stroke-width="1.4" fill="none"/><path d="M287.2 833.4L292 838.2M287.2 838.2L292 833.4" stroke="#6a4496" stroke-width="1.4" fill="none"/><path d="M289.67 859.6L294.47 864.4M289.67 864.4L294.47 859.6" stroke="#6a4496" stroke-width="1.4" fill="none"/><path d="M292.13 885.8L296.93 890.6M292.13 890.6L296.93 885.8" stroke="#6a4496" stroke-width="1.4" fill="none"/><path d="M294.6 912L299.4 916.8M294.6 916.8L299.4 912" stroke="#6a4496" stroke-width="1.4" fill="none"/><path d="M247.2 678.6L253.2 704.8L293.5 731L265.4 757.2L271.3 783.4L278.2 809.6L285.6 835.8L290.7 862L295.8 888.2L300.9 914.4" stroke="#3d68a8" stroke-width="1.8" fill="none" stroke-linejoin="round"/><path d="M247.2 674.4L251.4 678.6L247.2 682.8L243 678.6Z" fill="#3d68a8"/><path d="M253.2 700.6L257.4 704.8L253.2 709L249 704.8Z" fill="#3d68a8"/><path d="M293.5 726.8L297.7 731L293.5 735.2L289.3 731Z" fill="#3d68a8"/><path d="M265.4 753L269.6 757.2L265.4 761.4L261.2 757.2Z" fill="#3d68a8"/><path d="M271.3 779.2L275.5 783.4L271.3 787.6L267.1 783.4Z" fill="#3d68a8"/><path d="M278.2 805.4L282.4 809.6L278.2 813.8L274 809.6Z" fill="#3d68a8"/><path d="M285.6 831.6L289.8 835.8L285.6 840L281.4 835.8Z" fill="#3d68a8"/><path d="M290.7 857.8L294.9 862L290.7 866.2L286.5 862Z" fill="#3d68a8"/><path d="M295.8 884L300 888.2L295.8 892.4L291.6 888.2Z" fill="#3d68a8"/><path d="M300.9 910.2L305.1 914.4L300.9 918.6L296.7 914.4Z" fill="#3d68a8"/><path d="M223.7 678.6L233.1 704.8L293.5 731L251.2 757.2L260.7 783.4L270.2 809.6L280.6 835.8L289.07 862L297.53 888.2L306 914.4" stroke="#a33c3a" stroke-width="1.8" fill="none" stroke-linejoin="round"/><rect x="219.5" y="674.4" width="8.4" height="8.4" fill="#a33c3a"/><rect x="228.9" y="700.6" width="8.4" height="8.4" fill="#a33c3a"/><rect x="289.3" y="726.8" width="8.4" height="8.4" fill="#a33c3a"/><rect x="247" y="753" width="8.4" height="8.4" fill="#a33c3a"/><rect x="256.5" y="779.2" width="8.4" height="8.4" fill="#a33c3a"/><rect x="266" y="805.4" width="8.4" height="8.4" fill="#a33c3a"/><rect x="276.4" y="831.6" width="8.4" height="8.4" fill="#a33c3a"/><rect x="284.87" y="857.8" width="8.4" height="8.4" fill="#a33c3a"/><rect x="293.33" y="884" width="8.4" height="8.4" fill="#a33c3a"/><rect x="301.8" y="910.2" width="8.4" height="8.4" fill="#a33c3a"/><path d="M202.7 678.6L215.1 704.8L293 731L239.2 757.2L250.6 783.4L263.4 809.6L277.8 835.8L288.4 862L299 888.2L309.6 914.4" stroke="#2e8aa0" stroke-width="1.8" fill="none" stroke-linejoin="round"/><path d="M199.1 675L206.3 682.2M199.1 682.2L206.3 675M202.7 674.5L202.7 682.7" stroke="#2e8aa0" stroke-width="1.5" fill="none"/><path d="M211.5 701.2L218.7 708.4M211.5 708.4L218.7 701.2M215.1 700.7L215.1 708.9" stroke="#2e8aa0" stroke-width="1.5" fill="none"/><path d="M289.4 727.4L296.6 734.6M289.4 734.6L296.6 727.4M293 726.9L293 735.1" stroke="#2e8aa0" stroke-width="1.5" fill="none"/><path d="M235.6 753.6L242.8 760.8M235.6 760.8L242.8 753.6M239.2 753.1L239.2 761.3" stroke="#2e8aa0" stroke-width="1.5" fill="none"/><path d="M247 779.8L254.2 787M247 787L254.2 779.8M250.6 779.3L250.6 787.5" stroke="#2e8aa0" stroke-width="1.5" fill="none"/><path d="M259.8 806L267 813.2M259.8 813.2L267 806M263.4 805.5L263.4 813.7" stroke="#2e8aa0" stroke-width="1.5" fill="none"/><path d="M274.2 832.2L281.4 839.4M274.2 839.4L281.4 832.2M277.8 831.7L277.8 839.9" stroke="#2e8aa0" stroke-width="1.5" fill="none"/><path d="M284.8 858.4L292 865.6M284.8 865.6L292 858.4M288.4 857.9L288.4 866.1" stroke="#2e8aa0" stroke-width="1.5" fill="none"/><path d="M295.4 884.6L302.6 891.8M295.4 891.8L302.6 884.6M299 884.1L299 892.3" stroke="#2e8aa0" stroke-width="1.5" fill="none"/><path d="M306 910.8L313.2 918M306 918L313.2 910.8M309.6 910.3L309.6 918.5" stroke="#2e8aa0" stroke-width="1.5" fill="none"/><path d="M183.1 678.6L197.2 704.8L292.5 731L226.1 757.2L241.7 783.4L256.8 809.6L272.7 835.8L286.7 862L300.7 888.2L314.7 914.4" stroke="#da7a33" stroke-width="1.8" fill="none" stroke-linejoin="round"/><circle cx="183.1" cy="678.6" r="4.1" fill="#da7a33"/><circle cx="197.2" cy="704.8" r="4.1" fill="#da7a33"/><circle cx="292.5" cy="731" r="4.1" fill="#da7a33"/><circle cx="226.1" cy="757.2" r="4.1" fill="#da7a33"/><circle cx="241.7" cy="783.4" r="4.1" fill="#da7a33"/><circle cx="256.8" cy="809.6" r="4.1" fill="#da7a33"/><circle cx="272.7" cy="835.8" r="4.1" fill="#da7a33"/><circle cx="286.7" cy="862" r="4.1" fill="#da7a33"/><circle cx="300.7" cy="888.2" r="4.1" fill="#da7a33"/><circle cx="314.7" cy="914.4" r="4.1" fill="#da7a33"/><path d="M170.4 678.6L185.8 704.8L291.5 731L218.5 757.2L235.1 783.4L252 809.6L267.85 835.8L283.7 862L299.55 888.2L315.4 914.4" stroke="#4f81c8" stroke-width="1.8" fill="none" stroke-linejoin="round"/><path d="M166.6 678.6L174.2 678.6M170.4 674.8L170.4 682.4" stroke="#4f81c8" stroke-width="1.5" fill="none"/><path d="M182 704.8L189.6 704.8M185.8 701L185.8 708.6" stroke="#4f81c8" stroke-width="1.5" fill="none"/><path d="M287.7 731L295.3 731M291.5 727.2L291.5 734.8" stroke="#4f81c8" stroke-width="1.5" fill="none"/><path d="M214.7 757.2L222.3 757.2M218.5 753.4L218.5 761" stroke="#4f81c8" stroke-width="1.5" fill="none"/><path d="M231.3 783.4L238.9 783.4M235.1 779.6L235.1 787.2" stroke="#4f81c8" stroke-width="1.5" fill="none"/><path d="M248.2 809.6L255.8 809.6M252 805.8L252 813.4" stroke="#4f81c8" stroke-width="1.5" fill="none"/><path d="M264.05 835.8L271.65 835.8M267.85 832L267.85 839.6" stroke="#4f81c8" stroke-width="1.5" fill="none"/><path d="M279.9 862L287.5 862M283.7 858.2L283.7 865.8" stroke="#4f81c8" stroke-width="1.5" fill="none"/><path d="M295.75 888.2L303.35 888.2M299.55 884.4L299.55 892" stroke="#4f81c8" stroke-width="1.5" fill="none"/><path d="M311.6 914.4L319.2 914.4M315.4 910.6L315.4 918.2" stroke="#4f81c8" stroke-width="1.5" fill="none"/><path d="M153 678.6L169.8 704.8L291 731L209.8 757.2L229.5 783.4L250 809.6L268.35 835.8L286.7 862L305.05 888.2L323.4 914.4" stroke="#c8504d" stroke-width="1.8" fill="none" stroke-linejoin="round"/><rect x="150.6" y="677.2" width="4.8" height="2.8" fill="#c8504d"/><rect x="167.4" y="703.4" width="4.8" height="2.8" fill="#c8504d"/><rect x="288.6" y="729.6" width="4.8" height="2.8" fill="#c8504d"/><rect x="207.4" y="755.8" width="4.8" height="2.8" fill="#c8504d"/><rect x="227.1" y="782" width="4.8" height="2.8" fill="#c8504d"/><rect x="247.6" y="808.2" width="4.8" height="2.8" fill="#c8504d"/><rect x="265.95" y="834.4" width="4.8" height="2.8" fill="#c8504d"/><rect x="284.3" y="860.6" width="4.8" height="2.8" fill="#c8504d"/><rect x="302.65" y="886.8" width="4.8" height="2.8" fill="#c8504d"/><rect x="321" y="913" width="4.8" height="2.8" fill="#c8504d"/><path d="M139.9 678.6L162.8 704.8L290.5 731L203.3 757.2L224.2 783.4L245.9 809.6L268.3 835.8L287.4 862L306.5 888.2L325.6 914.4" stroke="#9bbb59" stroke-width="1.8" fill="none" stroke-linejoin="round" stroke-dasharray="6.8 5.1"/><rect x="135.9" y="677.2" width="8" height="2.8" fill="#9bbb59"/><rect x="158.8" y="703.4" width="8" height="2.8" fill="#9bbb59"/><rect x="286.5" y="729.6" width="8" height="2.8" fill="#9bbb59"/><rect x="199.3" y="755.8" width="8" height="2.8" fill="#9bbb59"/><rect x="220.2" y="782" width="8" height="2.8" fill="#9bbb59"/><rect x="241.9" y="808.2" width="8" height="2.8" fill="#9bbb59"/><rect x="264.3" y="834.4" width="8" height="2.8" fill="#9bbb59"/><rect x="283.4" y="860.6" width="8" height="2.8" fill="#9bbb59"/><rect x="302.5" y="886.8" width="8" height="2.8" fill="#9bbb59"/><rect x="321.6" y="913" width="8" height="2.8" fill="#9bbb59"/><path d="M120.6 678.6L145.1 704.8L289.5 731L190.9 757.2L214.4 783.4L239.3 809.6L265.2 835.8L287.27 862L309.33 888.2L331.4 914.4" stroke="#8064a2" stroke-width="1.8" fill="none" stroke-linejoin="round" stroke-dasharray="13.6 5.1" stroke-dashoffset="8.2"/><path d="M120.6 674.4L124.8 678.6L120.6 682.8L116.4 678.6Z" fill="#8064a2"/><path d="M145.1 700.6L149.3 704.8L145.1 709L140.9 704.8Z" fill="#8064a2"/><path d="M289.5 726.8L293.7 731L289.5 735.2L285.3 731Z" fill="#8064a2"/><path d="M190.9 753L195.1 757.2L190.9 761.4L186.7 757.2Z" fill="#8064a2"/><path d="M214.4 779.2L218.6 783.4L214.4 787.6L210.2 783.4Z" fill="#8064a2"/><path d="M239.3 805.4L243.5 809.6L239.3 813.8L235.1 809.6Z" fill="#8064a2"/><path d="M265.2 831.6L269.4 835.8L265.2 840L261 835.8Z" fill="#8064a2"/><path d="M287.27 857.8L291.47 862L287.27 866.2L283.07 862Z" fill="#8064a2"/><path d="M309.33 884L313.53 888.2L309.33 892.4L305.13 888.2Z" fill="#8064a2"/><path d="M331.4 910.2L335.6 914.4L331.4 918.6L327.2 914.4Z" fill="#8064a2"/><path d="M101.2 678.6L127.1 704.8L288.6 731L179.6 757.2L205.9 783.4L232.5 809.6L260.5 835.8L285.6 862L310.7 888.2L335.8 914.4" stroke="#4bacc6" stroke-width="1.8" fill="none" stroke-linejoin="round" stroke-dasharray="13.6 5.1 1.7 5.1 1.7 5.1" stroke-dashoffset="20.6"/><rect x="97" y="674.4" width="8.4" height="8.4" fill="#4bacc6"/><rect x="122.9" y="700.6" width="8.4" height="8.4" fill="#4bacc6"/><rect x="284.4" y="726.8" width="8.4" height="8.4" fill="#4bacc6"/><rect x="175.4" y="753" width="8.4" height="8.4" fill="#4bacc6"/><rect x="201.7" y="779.2" width="8.4" height="8.4" fill="#4bacc6"/><rect x="228.3" y="805.4" width="8.4" height="8.4" fill="#4bacc6"/><rect x="256.3" y="831.6" width="8.4" height="8.4" fill="#4bacc6"/><rect x="281.4" y="857.8" width="8.4" height="8.4" fill="#4bacc6"/><rect x="306.5" y="884" width="8.4" height="8.4" fill="#4bacc6"/><rect x="331.6" y="910.2" width="8.4" height="8.4" fill="#4bacc6"/><path d="M82.3 678.6L109.7 704.8L287.5 731L167.7 757.2L197.1 783.4L225.3 809.6L255.7 835.8L283.83 862L311.97 888.2L340.1 914.4" stroke="#f79646" stroke-width="1.8" fill="none" stroke-linejoin="round" stroke-dasharray="5 1.8"/><path d="M82.3 674L87.1 682.2L77.5 682.2Z" fill="#f79646"/><path d="M109.7 700.2L114.5 708.4L104.9 708.4Z" fill="#f79646"/><path d="M287.5 726.4L292.3 734.6L282.7 734.6Z" fill="#f79646"/><path d="M167.7 752.6L172.5 760.8L162.9 760.8Z" fill="#f79646"/><path d="M197.1 778.8L201.9 787L192.3 787Z" fill="#f79646"/><path d="M225.3 805L230.1 813.2L220.5 813.2Z" fill="#f79646"/><path d="M255.7 831.2L260.5 839.4L250.9 839.4Z" fill="#f79646"/><path d="M283.83 857.4L288.63 865.6L279.03 865.6Z" fill="#f79646"/><path d="M311.97 883.6L316.77 891.8L307.17 891.8Z" fill="#f79646"/><path d="M340.1 909.8L344.9 918L335.3 918Z" fill="#f79646"/><line x1="330.4" y1="680.5" x2="369.9" y2="680.5" stroke="#6a4496" stroke-width="1.8"/><path d="M347.8 678.1L352.6 682.9M347.8 682.9L352.6 678.1" stroke="#6a4496" stroke-width="1.4" fill="none"/><text x="373" y="684.8" font-size="12.7" class="t">ΔT=5</text><line x1="330.4" y1="697.84" x2="369.9" y2="697.84" stroke="#3d68a8" stroke-width="1.8"/><path d="M350.2 693.64L354.4 697.84L350.2 702.04L346 697.84Z" fill="#3d68a8"/><text x="373" y="702.14" font-size="12.7" class="t">ΔT=10</text><line x1="330.4" y1="715.18" x2="369.9" y2="715.18" stroke="#a33c3a" stroke-width="1.8"/><rect x="346" y="710.98" width="8.4" height="8.4" fill="#a33c3a"/><text x="373" y="719.48" font-size="12.7" class="t">ΔT=15</text><line x1="330.4" y1="732.52" x2="369.9" y2="732.52" stroke="#2e8aa0" stroke-width="1.8"/><path d="M346.6 728.92L353.8 736.12M346.6 736.12L353.8 728.92M350.2 728.42L350.2 736.62" stroke="#2e8aa0" stroke-width="1.5" fill="none"/><text x="373" y="736.82" font-size="12.7" class="t">ΔT=20</text><line x1="330.4" y1="749.86" x2="369.9" y2="749.86" stroke="#da7a33" stroke-width="1.8"/><circle cx="350.2" cy="749.86" r="4.1" fill="#da7a33"/><text x="373" y="754.16" font-size="12.7" class="t">ΔT=25</text><line x1="330.4" y1="767.2" x2="369.9" y2="767.2" stroke="#4f81c8" stroke-width="1.8"/><path d="M346.4 767.2L354 767.2M350.2 763.4L350.2 771" stroke="#4f81c8" stroke-width="1.5" fill="none"/><text x="373" y="771.5" font-size="12.7" class="t">ΔT=30</text><line x1="330.4" y1="784.54" x2="369.9" y2="784.54" stroke="#c8504d" stroke-width="1.8"/><rect x="347.8" y="783.14" width="4.8" height="2.8" fill="#c8504d"/><text x="373" y="788.84" font-size="12.7" class="t">ΔT=35</text><line x1="330.4" y1="801.88" x2="361.2" y2="801.88" stroke="#9bbb59" stroke-width="1.8" stroke-dasharray="6.8 5.1"/><rect x="346.2" y="800.48" width="8" height="2.8" fill="#9bbb59"/><text x="373" y="806.18" font-size="12.7" class="t">ΔT=40</text><line x1="330.4" y1="819.22" x2="362.8" y2="819.22" stroke="#8064a2" stroke-width="1.8" stroke-dasharray="13.6 5.1"/><path d="M350.2 815.02L354.4 819.22L350.2 823.42L346 819.22Z" fill="#8064a2"/><text x="373" y="823.52" font-size="12.7" class="t">ΔT=45</text><line x1="330.4" y1="836.56" x2="369.9" y2="836.56" stroke="#4bacc6" stroke-width="1.8" stroke-dasharray="13.6 5.1 1.7 5.1 1.7 5.1"/><rect x="346" y="832.36" width="8.4" height="8.4" fill="#4bacc6"/><text x="373" y="840.86" font-size="12.7" class="t">ΔT=50</text><line x1="330.4" y1="853.9" x2="369.9" y2="853.9" stroke="#f79646" stroke-width="1.8" stroke-dasharray="5 1.8"/><path d="M350.2 849.3L355 857.5L345.4 857.5Z" fill="#f79646"/><text x="373" y="858.2" font-size="12.7" class="t">ΔT=55</text><text transform="translate(12.4 796.3) rotate(-90)" text-anchor="middle" font-size="15.4" font-weight="bold" class="b">Number of Layers</text><text x="225.9" y="954.1" text-anchor="middle" font-size="15" font-weight="bold" letter-spacing="0.28" class="b">Stress (MPa)</text><text x="203.2" y="987.2" text-anchor="middle" font-size="17" font-family='"Liberation Serif", serif' class="b">(c)</text></svg></body></html>
